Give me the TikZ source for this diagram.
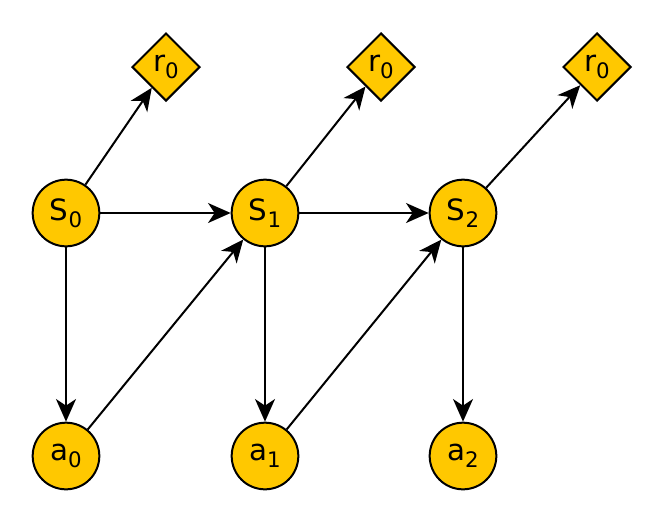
\documentclass[tikz,border=0pt]{standalone}
\usepackage{fontspec}
\setmainfont{DejaVu Sans}
\usetikzlibrary{shapes.geometric, arrows.meta}
\definecolor{gold}{HTML}{FFC800}

\newcommand{\lbl}[2]{#1\raisebox{-5pt}{\fontsize{16}{18}\selectfont #2}}

\begin{document}
\begin{tikzpicture}[x=0.75pt, y=-0.75pt,
  every node/.style={font=\fontsize{22}{24}\selectfont},
  state/.style={circle, draw=black, line width=1.5pt, fill=gold, minimum size=50pt, inner sep=0pt},
  reward/.style={diamond, draw=black, line width=1.5pt, fill=gold, minimum width=51pt, minimum height=51pt, inner sep=0pt},
  link/.style={line width=1.5pt, -{Stealth[length=17pt, width=15pt, inset=5pt]}}]
  \useasboundingbox (0,0) rectangle (664,522);
  % states
  \node[state] (s0) at (66,213) {\lbl{S}{0}};
  \node[state] (s1) at (265,213) {\lbl{S}{1}};
  \node[state] (s2) at (463,213) {\lbl{S}{2}};
  % actions
  \node[state] (a0) at (66,456) {\lbl{a}{0}};
  \node[state] (a1) at (265,456) {\lbl{a}{1}};
  \node[state] (a2) at (463,456) {\lbl{a}{2}};
  % rewards
  \node[reward] (r0) at (166,67) {\lbl{r}{0}};
  \node[reward] (r1) at (381,67) {\lbl{r}{0}};
  \node[reward] (r2) at (597,67) {\lbl{r}{0}};
  \draw[link] (s0) -- (s1);
  \draw[link] (s1) -- (s2);
  \draw[link] (s0) -- (a0);
  \draw[link] (s1) -- (a1);
  \draw[link] (s2) -- (a2);
  \draw[link] (a0) -- (s1);
  \draw[link] (a1) -- (s2);
  \draw[link] (s0) -- (r0);
  \draw[link] (s1) -- (r1);
  \draw[link] (s2) -- (r2);
\end{tikzpicture}
\end{document}
